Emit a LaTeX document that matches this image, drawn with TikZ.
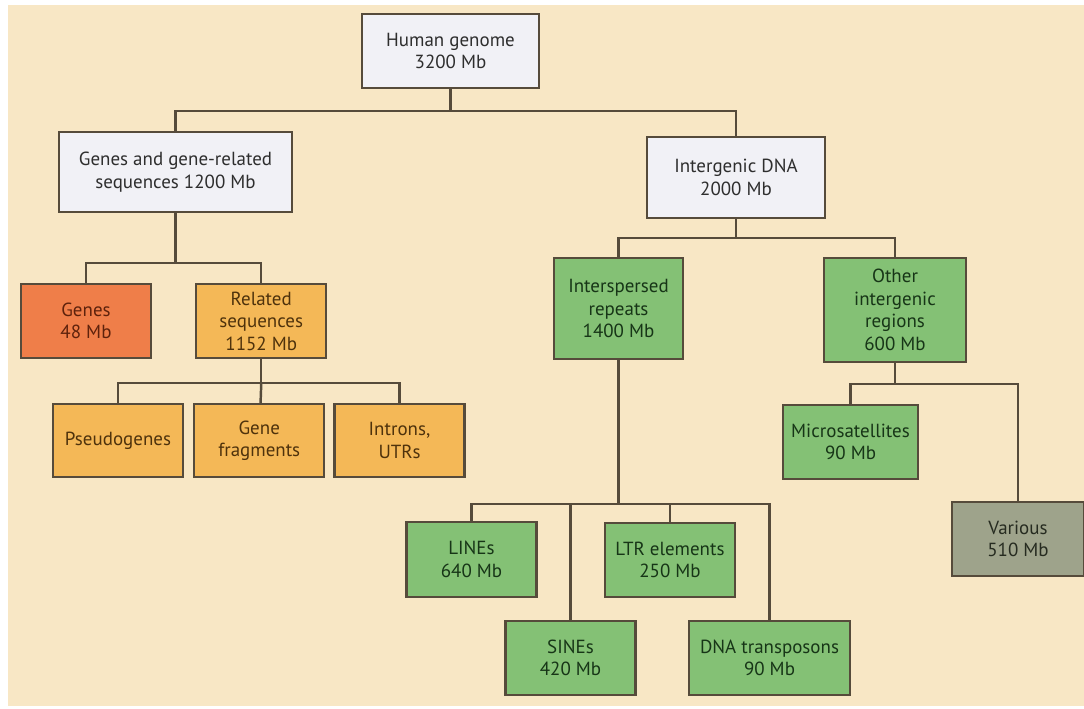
\documentclass[tikz,border=0pt]{standalone}
\usepackage{fontspec}
\setmainfont{PT Sans}
\usetikzlibrary{positioning,calc}

\definecolor{paper}{HTML}{F8E7C5}
\definecolor{edge}{HTML}{564B3B}
\definecolor{pale}{HTML}{F1F1F6}
\definecolor{paleink}{HTML}{2E2E2E}
\definecolor{gene}{HTML}{EF7E49}
\definecolor{geneink}{HTML}{5E220C}
\definecolor{rel}{HTML}{F4B857}
\definecolor{relink}{HTML}{4E320C}
\definecolor{rep}{HTML}{84C175}
\definecolor{repink}{HTML}{173517}
\definecolor{var}{HTML}{9EA38B}
\definecolor{varink}{HTML}{262B20}

\begin{document}
\begin{tikzpicture}[
    x=0.02cm, y=-0.02cm,
    every node/.style={font=\fontsize{10.8}{12.8}\selectfont},
    region/.style={rectangle, draw=edge, fill=#1, text=#1ink, line width=1.3pt, minimum width=2.6cm, minimum height=1.48cm, align=center, inner sep=1pt},
    link/.style={draw=edge, line width=1.4pt},
]

% Paper
\useasboundingbox (0,0) rectangle (1084,708);
\fill[paper] (8,5) rectangle (1084,706);

% Top levels
\node[region=pale, minimum width=3.54cm] (human) at (450.5,51) {Human genome\\3200 Mb};
\node[region=pale, minimum width=4.66cm, minimum height=1.6cm] (genesrel) at (175.5,172) {Genes and gene-related\\sequences 1200 Mb};
\node[region=pale, minimum width=3.56cm, minimum height=1.62cm] (intergenic) at (736,177.5) {Intergenic DNA\\2000 Mb};

% Gene side
\node[region=gene] (genes) at (86,321) {Genes\\48 Mb};
\node[region=rel, right=0.86cm of genes] (related) {Related\\sequences\\1152 Mb};
\node[region=rel, minimum height=1.46cm] (pseudo) at (118,440.5) {Pseudogenes};
\node[region=rel, minimum height=1.46cm, right=0.18cm of pseudo] (fragments) {Gene\\fragments};
\node[region=rel, minimum height=1.46cm, right=0.16cm of fragments] (introns) {Introns,\\UTRs};

% Intergenic side
\node[region=rep, minimum width=2.58cm, minimum height=2.02cm] (interspersed) at (618.5,308.5) {Interspersed\\repeats\\1400 Mb};
\node[region=rep, minimum width=2.84cm, minimum height=2.08cm] (other) at (895,310) {Other\\intergenic\\regions\\600 Mb};
\node[region=rep, minimum width=2.7cm] (micro) at (850.5,442) {Microsatellites\\90 Mb};
\node[region=var, minimum width=2.64cm] (various) at (1018,539) {Various\\510 Mb};
\node[region=rep, minimum height=1.5cm] (lines) at (471.5,559.5) {LINEs\\640 Mb};
\node[region=rep] (ltr) at (670,560) {LTR elements\\250 Mb};
\node[region=rep] (sines) at (570.5,658) {SINEs\\420 Mb};
\node[region=rep, minimum width=3.22cm] (dnatrans) at (769.5,658) {DNA transposons\\90 Mb};

% Bus points
\coordinate (bus0) at ($(human.south)+(0,22)$);
\coordinate (bus1) at ($(genesrel.south)+(0,50)$);
\coordinate (bus2) at ($(related.south)+(0,24)$);
\coordinate (bus3) at ($(intergenic.south)+(0,19)$);
\coordinate (bus4) at ($(interspersed.south)+(0,144)$);
\coordinate (bus5) at ($(other.south)+(0,21)$);

% Connectors
\draw[link] (human) -- (bus0) -| (genesrel);
\draw[link] (bus0) -| (intergenic);
\draw[link] (genesrel) -- (bus1) -| (genes);
\draw[link] (bus1) -| (related);
\draw[link] (related) -- (bus2) -| (pseudo);
\draw[link] (bus2) -- (fragments);
\draw[link] (bus2) -| (introns);
\draw[link] (intergenic) -- (bus3) -| (interspersed);
\draw[link] (bus3) -| (other);
\draw[link] (interspersed) -- (bus4) -| (lines);
\draw[link] (bus4) -| (sines);
\draw[link] (bus4) -| (ltr);
\draw[link] (bus4) -| (dnatrans);
\draw[link] (other) -- (bus5) -| (micro);
\draw[link] (bus5) -| (various);

\end{tikzpicture}
\end{document}
